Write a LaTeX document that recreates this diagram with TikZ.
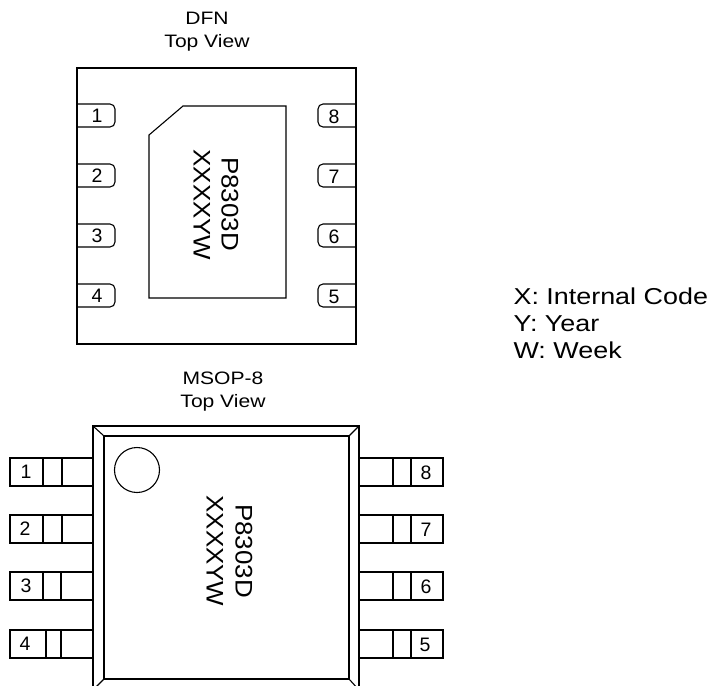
\documentclass[tikz,border=0pt]{standalone}
\usepackage{fontspec}
\setmainfont{Liberation Sans}
\newcommand{\wide}[1]{\scalebox{1.17}[1]{#1}}
\newcommand{\markwide}[1]{\scalebox{1.08}[1]{#1}}

\begin{document}
\begin{tikzpicture}[x=1pt,y=-1pt,line width=1.1pt]
	\tikzstyle{title}=[font=\fontsize{18}{23}\selectfont,align=center,inner sep=0pt]
	\tikzstyle{pinno}=[font=\fontsize{19.5}{19.5}\selectfont,inner sep=0pt]
	\tikzstyle{marking}=[font=\fontsize{24}{24}\selectfont,rotate=-90,inner sep=0pt]
	\tikzstyle{legend}=[font=\fontsize{23}{27}\selectfont,align=left,anchor=west,inner sep=0pt]
	\tikzstyle{heavy}=[line width=2pt]

	\useasboundingbox (0,0) rectangle (713,686);
	\clip (0,0) rectangle (713,686);

	% DFN package
	\node[title](dfnlbl) at (207,32){\wide{DFN}\\\wide{Top View}};
	\draw (77,68) rectangle (356,344);
	\draw (183,106) -- (286,106) -- (286,298) -- (149,298) -- (149,135) -- cycle;
	\node[marking](dfnpart) at (230,204){\markwide{P8303D}};
	\node[marking](dfncode) at (202,205){\markwide{XXXXYW}};

	\draw[rounded corners=5pt] (77,104) -- (115,104) -- (115,127) -- (77,127);
	\draw[rounded corners=5pt] (77,164) -- (115,164) -- (115,187) -- (77,187);
	\draw[rounded corners=5pt] (77,224) -- (115,224) -- (115,247) -- (77,247);
	\draw[rounded corners=5pt] (77,284) -- (115,284) -- (115,307) -- (77,307);
	\draw[rounded corners=5pt] (356,104) -- (318,104) -- (318,127) -- (356,127);
	\draw[rounded corners=5pt] (356,164) -- (318,164) -- (318,187) -- (356,187);
	\draw[rounded corners=5pt] (356,224) -- (318,224) -- (318,247) -- (356,247);
	\draw[rounded corners=5pt] (356,284) -- (318,284) -- (318,307) -- (356,307);

	\node[pinno](d1) at (97,116){1};
	\node[pinno](d2) at (97,176){2};
	\node[pinno](d3) at (97,236){3};
	\node[pinno](d4) at (97,296){4};
	\node[pinno](d8) at (334,117){8};
	\node[pinno](d7) at (334,177){7};
	\node[pinno](d6) at (334,237){6};
	\node[pinno](d5) at (334,297){5};

	% legend
	\node[legend](key) at (513,323){\wide{X: Internal Code}\\\wide{Y: Year}\\\wide{W: Week}};

	% MSOP-8 package
	\node[title](msoplbl) at (223,392){\wide{MSOP-8}\\\wide{Top View}};
	\draw (93,426) rectangle (359,690);
	\draw (104,436) rectangle (349,679);
	\draw (93,426) -- (104,436);
	\draw (359,426) -- (349,436);
	\draw (93,690) -- (104,679);
	\draw (359,690) -- (349,679);
	\draw (137,470) circle (22.5);
	\node[marking](msoppart) at (244,551){\markwide{P8303D}};
	\node[marking](msopcode) at (215,551){\markwide{XXXXYW}};

	\draw (10,458) rectangle (93,486);
	\draw (43,458) -- (43,486);
	\draw (62,458) -- (62,486);
	\draw (10,515) rectangle (93,543);
	\draw (43,515) -- (43,543);
	\draw (62,515) -- (62,543);
	\draw (10,572) rectangle (93,600);
	\draw[heavy] (43,572) -- (43,600);
	\draw (61,572) -- (61,600);
	\draw (10,630) rectangle (93,658);
	\draw[heavy] (46,630) -- (46,658);
	\draw[heavy] (61,630) -- (61,658);

	\draw (359,458) rectangle (443,486);
	\draw (393,458) -- (393,486);
	\draw[heavy] (411,458) -- (411,486);
	\draw (359,515) rectangle (443,543);
	\draw (393,515) -- (393,543);
	\draw (411,515) -- (411,543);
	\draw[heavy] (443,515) -- (443,543);
	\draw (359,572) rectangle (443,600);
	\draw (393,572) -- (393,600);
	\draw (411,572) -- (411,600);
	\draw (359,630) rectangle (443,658);
	\draw (393,630) -- (393,658);
	\draw (411,630) -- (411,658);

	\node[pinno](m1) at (26,472){1};
	\node[pinno](m2) at (25,529){2};
	\node[pinno](m3) at (26,586){3};
	\node[pinno](m4) at (25,644){4};
	\node[pinno](m8) at (426,473){8};
	\node[pinno](m7) at (426,530){7};
	\node[pinno](m6) at (426,587){6};
	\node[pinno](m5) at (425,645){5};
\end{tikzpicture}
\end{document}
